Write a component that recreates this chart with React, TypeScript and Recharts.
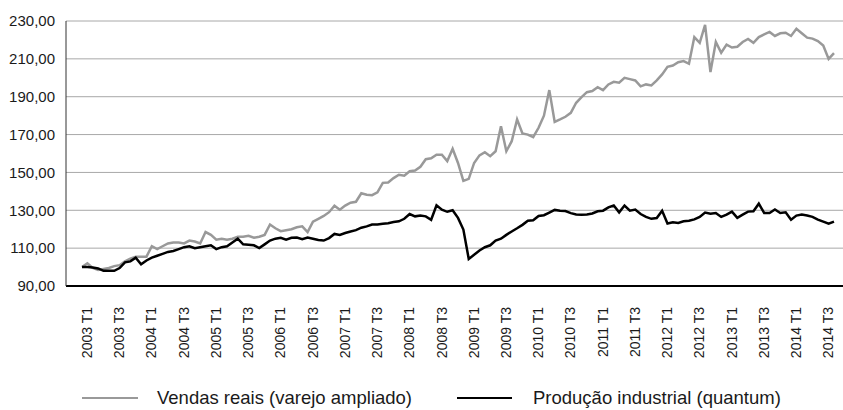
import React from 'react';
import { LineChart, Line, XAxis, YAxis, CartesianGrid } from 'recharts';

// Monthly index values, Jan 2003 .. Sep 2014 (141 months)
const vendasReais = [
  100, 102, 99.5, 98.5, 99, 99.5, 100.5, 101, 103, 104.5, 105.5, 105.5,
  105.5, 111, 109.5, 111, 112.5, 113, 113, 112.5, 114, 113.5, 112.5, 118.5,
  117, 114.5, 115, 114.5, 115, 116, 116, 116.5, 115.5, 116, 117, 122.5,
  120.5, 119, 119.5, 120, 121, 121.5, 118.5, 124, 125.5, 127, 129, 132.4,
  130.3, 132.5, 134, 134.5, 139, 138.2, 138, 139.5, 144.5, 144.7, 147, 148.8,
  148.3, 150.6, 151, 153, 157, 157.5, 159.4, 159.4, 156, 162.5, 155, 145.5,
  146.6, 155, 159, 160.7, 158.6, 161.2, 174.4, 161.2, 166.5, 178, 170.6, 170,
  168.6, 173.6, 180, 193.5, 176.7, 178, 179.4, 181.5, 186.8, 189.8, 192.4, 193,
  195, 193.5, 196.5, 197.9, 197.4, 200, 199.3, 198.6, 195.5, 196.5, 196, 198.6,
  201.8, 205.8, 206.5, 208.2, 208.8, 207.4, 221.5, 218.5, 228, 203, 218.9, 213.2,
  217.5, 216, 216.4, 218.9, 220.5, 218.5, 221.5, 222.9, 224.2, 222.1, 223.5, 223.8,
  222.1, 225.9, 223.5, 221.2, 220.7, 219.4, 217, 210, 213,
];

const producaoIndustrial = [
  100, 100, 99.8, 99.3, 98, 98, 98, 99.5, 102.5, 103, 105, 101.5,
  103.5, 105, 106, 107, 108, 108.5, 109.5, 110.5, 111, 110, 110.5, 111,
  111.5, 109.5, 110.5, 111, 113, 115, 112, 111.8, 111.5, 110, 112, 114,
  115, 115.5, 114.5, 115.5, 115.6, 114.7, 115.6, 115, 114.3, 114, 115.3, 117.5,
  117, 118, 118.8, 119.5, 120.8, 121.5, 122.5, 122.5, 122.9, 123.2, 123.8, 124.2,
  125.5, 128, 126.8, 127.3, 126.8, 125, 132.6, 130.3, 129.2, 130, 126, 119.8,
  104.3, 106.5, 108.8, 110.5, 111.5, 114, 115, 117, 118.8, 120.5, 122.3, 124.5,
  124.7, 127, 127.4, 128.8, 130.2, 129.8, 129.6, 128.5, 127.8, 127.7, 127.8, 128.3,
  129.5, 129.8, 131.5, 132.5, 128.9, 132.5, 129.8, 130.4, 128, 126.5, 125.5, 125.9,
  129.8, 123, 123.7, 123.3, 124.2, 124.5, 125.2, 126.5, 128.8, 128.2, 128.6, 126.5,
  127.7, 129.3, 126, 127.7, 129.3, 129.5, 133.5, 128.6, 128.6, 130.4, 128.6, 128.9,
  125, 127.2, 127.7, 127.2, 126.5, 125.1, 124, 122.9, 124,
];

// One label every 6 months (T1 = Jan, T3 = Jul)
const tickLabels = [
  '2003 T1', '2003 T3', '2004 T1', '2004 T3', '2005 T1', '2005 T3',
  '2006 T1', '2006 T3', '2007 T1', '2007 T3', '2008 T1', '2008 T3',
  '2009 T1', '2009 T3', '2010 T1', '2010 T3', '2011 T1', '2011 T3',
  '2012 T1', '2012 T3', '2013 T1', '2013 T3', '2014 T1', '2014 T3',
];

const yTicks = [90, 110, 130, 150, 170, 190, 210, 230];

const seriesNames = ['Vendas reais (varejo ampliado)', 'Produção industrial (quantum)'];
const seriesColors = ['#999999', '#000000'];

const data = vendasReais.map((v, i) => ({
  mes: i,
  vendas: v,
  producao: producaoIndustrial[i],
}));

const FONT = '"Liberation Sans", Arial, sans-serif';

const XTick = (props: any) => {
  const { x, y, payload } = props;
  const idx = payload.value as number;
  if (idx % 6 !== 0) return null;
  const label = tickLabels[idx / 6];
  return (
    <text
      transform={`translate(${x + 10},${y + 19}) rotate(-90)`}
      textAnchor="end"
      fontSize={14}
      fontFamily={FONT}
      fill="#1a1a1a"
    >
      {label}
    </text>
  );
};

const fmt = (v: number) => v.toFixed(2).replace('.', ',');

export default function App() {
  return (
    <div style={{ position: 'absolute', left: 0, top: 0, width: 843, height: 410, background: '#fff' }}>
      <LineChart
        width={843}
        height={410}
        data={data}
        margin={{ top: 21, right: 0, bottom: 0, left: 0 }}
      >
        <CartesianGrid vertical={false} stroke="#a8a8a8" strokeWidth={1} />
        <XAxis
          dataKey="mes"
          type="category"
          interval={0}
          height={124}
          tick={<XTick />}
          tickLine={false}
          tickSize={0}
          axisLine={{ stroke: '#000', strokeWidth: 2 }}
          padding={{ left: 16, right: 9 }}
        />
        <YAxis
          domain={[90, 230]}
          ticks={yTicks}
          width={66}
          tickFormatter={fmt}
          tickLine={false}
          tickSize={0}
          tickMargin={11}
          axisLine={{ stroke: '#333', strokeWidth: 1 }}
          tick={{ fontSize: 15, fontFamily: FONT, fill: '#1a1a1a' }}
        />
        <Line
          type="linear"
          dataKey="vendas"
          stroke={seriesColors[0]}
          strokeWidth={2.5}
          dot={false}
          isAnimationActive={false}
        />
        <Line
          type="linear"
          dataKey="producao"
          stroke={seriesColors[1]}
          strokeWidth={2.5}
          dot={false}
          isAnimationActive={false}
        />
      </LineChart>
      <div
        style={{
          position: 'absolute',
          left: 0,
          top: 386,
          width: 843,
          height: 24,
          fontFamily: FONT,
          fontSize: 18.5,
          color: '#1a1a1a',
        }}
      >
        <div style={{ position: 'absolute', left: 82, top: 11, width: 56, height: 0, borderTop: `2.5px solid ${seriesColors[0]}` }} />
        <div style={{ position: 'absolute', left: 157, top: 0, lineHeight: '24px', whiteSpace: 'nowrap' }}>{seriesNames[0]}</div>
        <div style={{ position: 'absolute', left: 457, top: 11, width: 55, height: 0, borderTop: `2.5px solid ${seriesColors[1]}` }} />
        <div style={{ position: 'absolute', left: 533, top: 0, lineHeight: '24px', whiteSpace: 'nowrap' }}>{seriesNames[1]}</div>
      </div>
    </div>
  );
}
